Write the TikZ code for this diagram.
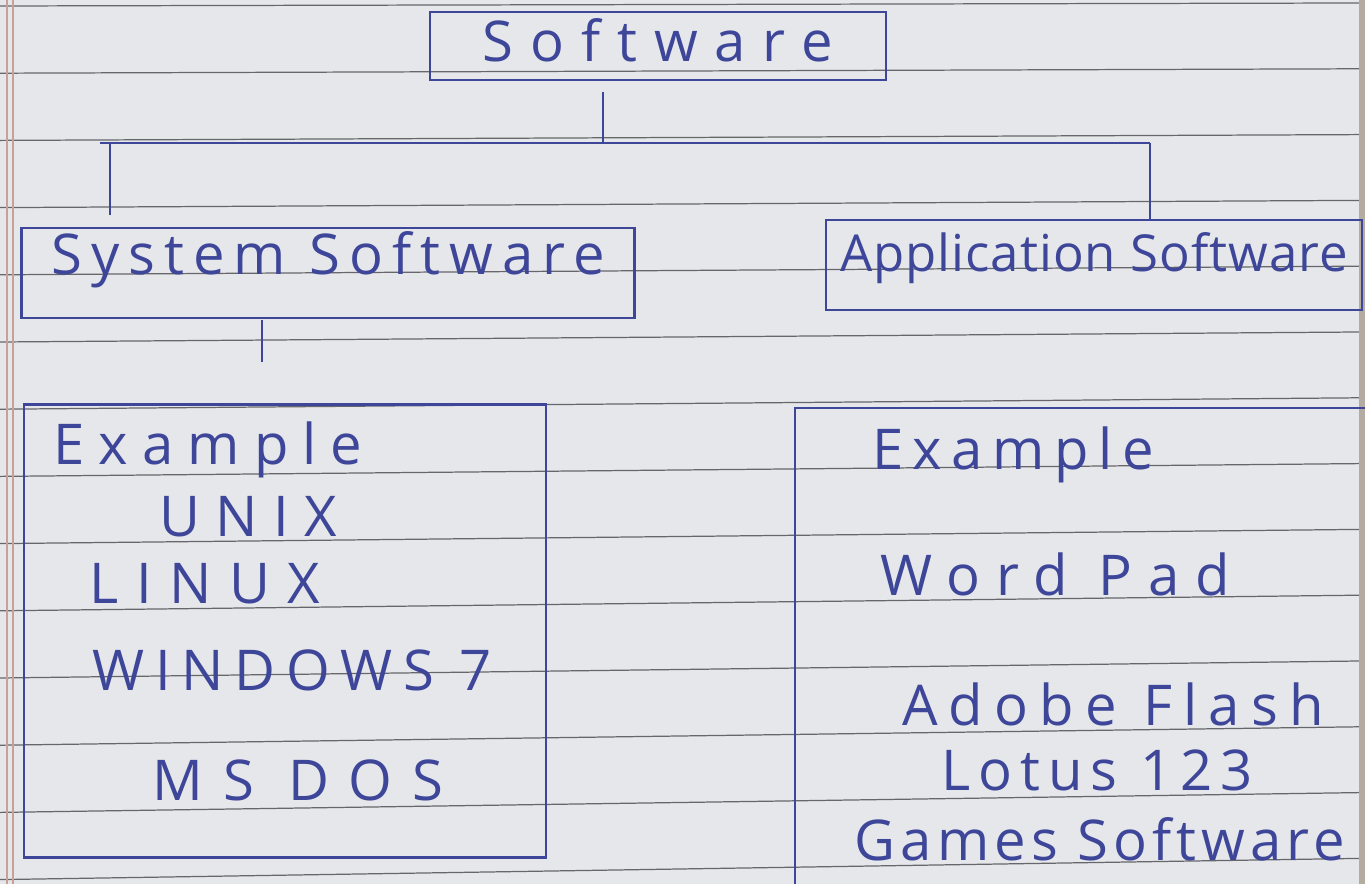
\documentclass[tikz,border=0pt]{standalone}
\usepackage{fontspec}
\newfontfamily\handfont{Open Sans}
\usetikzlibrary{positioning}
\definecolor{ink}{HTML}{3E4699}
\definecolor{paper}{HTML}{E6E7EB}
\definecolor{rule}{HTML}{66666B}
\definecolor{margin}{HTML}{C8A096}
\definecolor{edge}{HTML}{B4ACA0}
\tikzset{
  pen/.style={draw=ink, line width=1.6pt},
  hand/.style={text=ink, inner sep=0pt,
    font=\handfont\addfontfeature{LetterSpace=#1}\fontsize{32}{38}\selectfont},
  hand/.default=12,
  sheetline/.style={draw=rule, line width=.7pt},
}
\begin{document}
\begin{tikzpicture}[x=0.02cm,y=-0.02cm]
\fill[paper] (0,0) rectangle (1365,884);
\useasboundingbox (0,0) rectangle (1365,884);
% ruled sheet
\foreach \i in {0,...,13}
  \draw[sheetline] (0,{6+67.2*\i}) -- (1359,{3+65.8*\i});
\draw[margin, line width=.8pt] (7,0) -- (7,884) (13,0) -- (13,884);
\fill[edge] (1359,0) rectangle (1365,884);
% boxes
\node[pen, hand=30, minimum width=9.12cm, text height=1cm, text depth=.36cm] (soft) at (658,46) {Software};
\node[pen, hand=16, minimum width=12.26cm, text height=.94cm, text depth=.86cm] (sys) at (328,273) {System Software};
\node[pen, hand=2, font=\handfont\addfontfeature{LetterSpace=2}\fontsize{29}{34}\selectfont,
      minimum width=10.72cm, text height=1.04cm, text depth=.76cm] (app) at (1094,265) {Application Software};
\node[pen, minimum width=10.44cm, minimum height=9.06cm] (sysex) at (285,631) {};
\coordinate (appexA) at (795,884);
\coordinate (appexB) at (795,408);
\coordinate (appexC) at (1365,408);
\draw[pen] (appexA) -- (appexB) -- (appexC);
% tree lines
\coordinate (tap) at (603,92);
\coordinate (busL) at (100,143);
\coordinate (busR) at (1150,143);
\coordinate (dropL) at (110,143);
\coordinate (stem) at (262,320);
\draw[pen] (tap) -- (tap |- busL);
\draw[pen] (busL) -- (busR);
\draw[pen] (dropL) -- ++(0,72);
\draw[pen] (busR) -- (busR |- app.north);
\draw[pen] (stem) -- ++(0,42);
% examples
\node[hand=25, anchor=base] (exl) at (208,465) {Example};
\node[hand=27, anchor=base] (unix) at (248,537) {UNIX};
\node[hand=31, anchor=base] (linux) at (205,603) {LINUX};
\node[hand=19, anchor=base] (win) at (292,690) {WINDOWS 7};
\node[hand=35, anchor=base] (msdos) at (298,800) {MS DOS};
\node[hand=17, anchor=base] (exr) at (1013,470) {Example};
\node[hand=28, anchor=base] (word) at (1055,595) {Word Pad};
\node[hand=20, anchor=base] (adobe) at (1113,725) {Adobe Flash};
\node[hand=14, anchor=base] (lotus) at (1097,790) {Lotus 123};
\node[hand=9, anchor=base] (games) at (1100,860) {Games Software};
\end{tikzpicture}
\end{document}
